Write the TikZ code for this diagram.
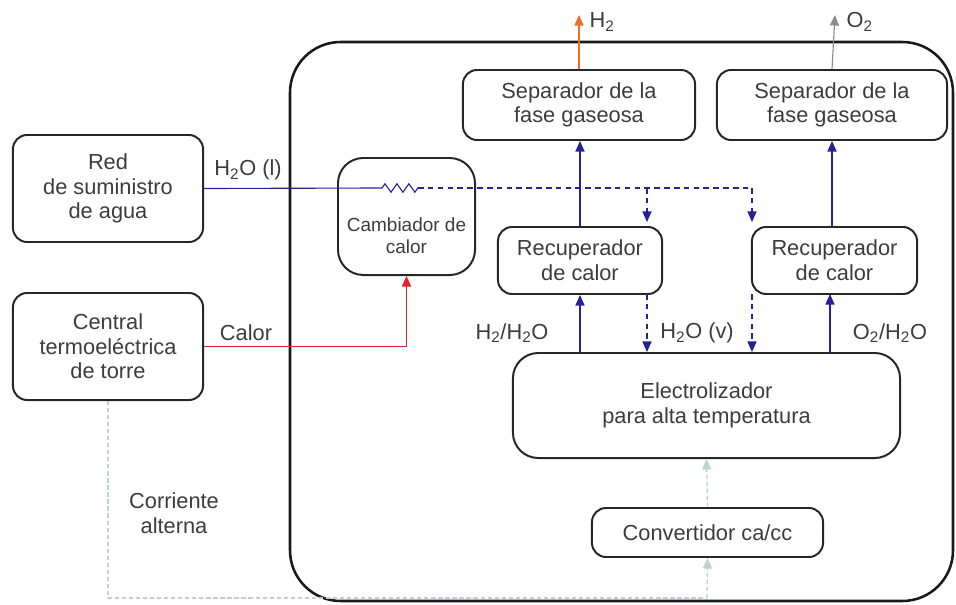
\documentclass[tikz,border=0pt]{standalone}
\usepackage{fontspec}
\setmainfont{Liberation Sans}
\usetikzlibrary{arrows.meta,decorations.pathmorphing}

\definecolor{txtgray}{RGB}{60,60,60}
\definecolor{flowblue}{RGB}{35,35,150}
\definecolor{heatred}{RGB}{230,30,45}
\definecolor{htwoorange}{RGB}{240,110,35}
\definecolor{otwogray}{RGB}{140,140,140}
\definecolor{acgreen}{RGB}{185,212,206}

\tikzset{
  unit/.style={draw=black!85, line width=1.4pt, rounded corners=10pt, align=center,
    text=txtgray, font=\fontsize{15.5}{17.5}\selectfont, inner sep=0pt},
  lbl/.style={text=txtgray, font=\fontsize{15.5}{17.5}\selectfont, align=center, inner sep=1pt},
  tip/.style={-{Triangle[length=7.5pt,width=6.5pt]}},
  water/.style={flowblue, line width=0.8pt},
  steam/.style={flowblue, line width=0.8pt, dash pattern=on 4pt off 3pt},
  ac/.style={acgreen, line width=0.9pt, dash pattern=on 3pt off 2pt}
}

\begin{document}
\begin{tikzpicture}[x=0.025cm,y=-0.025cm]
	\useasboundingbox (0,0) rectangle (956,605);
	% plant boundary
	\draw[black!90, line width=1.8pt, rounded corners=36pt] (290,42) rectangle (953,601);
	% outside
	\node[unit, minimum width=4.75cm, minimum height=2.675cm] (red) at (108,188.5) {Red\\de suministro\\de agua};
	\node[unit, minimum width=4.75cm, minimum height=2.675cm] (central) at (108,346.5) {Central\\termoeléctrica\\de torre};
	% inside
	\node[unit, rounded corners=18pt, minimum width=3.425cm, minimum height=2.925cm] (cam) at (406.5,216.5) {};
	\node[lbl, font=\fontsize{13.5}{15.5}\selectfont] (camtext) at (406.5,236) {Cambiador de\\calor};
	\node[unit, minimum width=5.8cm, minimum height=1.75cm] (sepa) at (579,105) {Separador de la\\fase gaseosa};
	\node[unit, minimum width=5.75cm, minimum height=1.75cm] (sepb) at (832,105) {Separador de la\\fase gaseosa};
	\node[unit, minimum width=4.1cm, minimum height=1.675cm] (reca) at (580,260.5) {Recuperador\\de calor};
	\node[unit, minimum width=4.125cm, minimum height=1.675cm] (recb) at (834.5,260.5) {Recuperador\\de calor};
	\node[unit, rounded corners=18pt, minimum width=9.675cm, minimum height=2.625cm] (elec) at (706.5,405.5) {Electrolizador\\para alta temperatura};
	\node[unit, minimum width=5.775cm, minimum height=1.225cm] (conv) at (707.5,532.5) {Convertidor ca/cc};
	% labels
	\node[lbl] (lwater) at (248,170) {H\textsubscript{2}O (l)};
	\node[lbl] (lheat) at (246,333) {Calor};
	\node[lbl] (lhh) at (512,333) {H\textsubscript{2}/H\textsubscript{2}O};
	\node[lbl] (lsteam) at (697,333) {H\textsubscript{2}O (v)};
	\node[lbl] (loo) at (890,333) {O\textsubscript{2}/H\textsubscript{2}O};
	\node[lbl] (lac) at (174,513) {Corriente\\alterna};
	% outlets
	\coordinate (htwo) at (579,15);
	\coordinate (otwo) at (835,15);
	\node[lbl, anchor=west] (lhtwo) at (588,22) {H\textsubscript{2}};
	\node[lbl, anchor=west] (lotwo) at (845,22) {O\textsubscript{2}};
	% water path
	\coordinate (zza) at (382,188);
	\coordinate (zzb) at (418,188);
	\coordinate (ja) at (647,188);
	\coordinate (jb) at (752,188);
	\coordinate (ina) at (647,222);
	\coordinate (inb) at (752,222);
	\coordinate (outa) at (647,294);
	\coordinate (outb) at (752,294);
	% ac path
	\coordinate (aca) at (108,598);
	\coordinate (acb) at (707,598);
	% connections
	\draw[water] (red.east) -- (zza);
	\draw[water, decorate, decoration={zigzag, amplitude=3pt, segment length=8.5pt}] (zza) -- (zzb);
	\draw[steam] (zzb) -- (jb);
	\draw[steam, tip] (ja) -- (ina);
	\draw[steam, tip] (jb) -- (inb);
	\draw[steam, tip] (outa) -- (outa |- elec.north);
	\draw[steam, tip] (outb) -- (outb |- elec.north);
	\draw[water, tip] (reca.south |- elec.north) -- (reca.south);
	\draw[water, tip] (830,353) -- (830,294);
	\draw[water, tip] (reca.north) -- (reca.north |- sepa.south);
	\draw[water, tip] (832,227) -- (sepb.south);
	\draw[htwoorange, line width=0.8pt, tip] (sepa.north) -- (htwo);
	\draw[otwogray, line width=0.8pt, tip] (sepb.north) -- (otwo);
	\draw[heatred, line width=1pt, tip] (central.east) -| (cam.south);
	\draw[ac] (central.south) -- (aca) -- (acb);
	\draw[ac, tip] (acb) -- (conv.south);
	\draw[ac, tip] (conv.north) -- (elec.south);
\end{tikzpicture}
\end{document}
